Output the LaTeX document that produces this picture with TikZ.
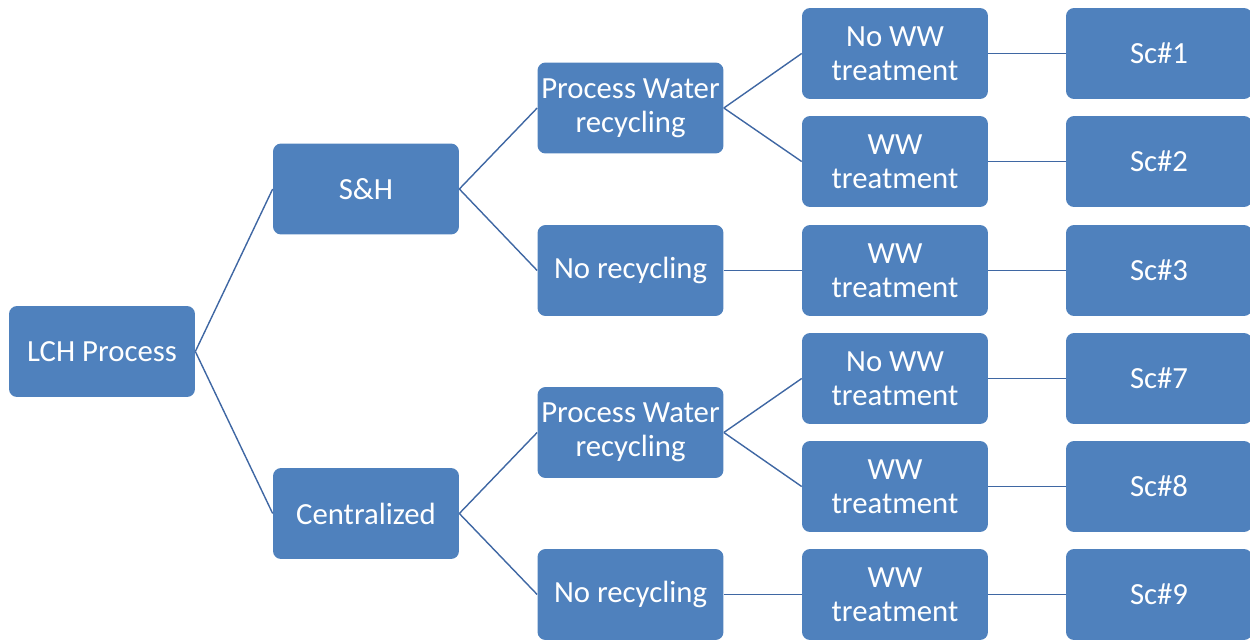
\documentclass[tikz,border=0pt]{standalone}
\usepackage{fontspec}
\setmainfont{Carlito}
\definecolor{boxblue}{HTML}{4F81BD}
\definecolor{linkblue}{HTML}{3F67A3}
\begin{document}
\begin{tikzpicture}[x=0.02cm,y=-0.02cm,
  tbox/.style={rectangle, rounded corners=0.16cm, fill=boxblue, text=white,
    minimum width=3.72cm, minimum height=1.82cm, inner sep=0pt, align=center,
    font=\fontsize{17.5}{19.5}\selectfont},
  link/.style={draw=linkblue, line width=0.8pt}]
\useasboundingbox (0,0) rectangle (1250,639);
% level 1
\node[tbox] (lch) at (102,351.5) {LCH Process};
% level 2
\node[tbox] (sh) at (366,189) {S\&H};
\node[tbox] (cen) at (366,513.5) {Centralized};
% level 3
\node[tbox] (pwa) at (630.5,108) {Process Water\\recycling};
\node[tbox] (nra) at (630.5,270.5) {No recycling};
\node[tbox] (pwb) at (630.5,432.5) {Process Water\\recycling};
\node[tbox] (nrb) at (630.5,594.5) {No recycling};
% level 4
\node[tbox] (t1) at (895,53.5) {No WW\\treatment};
\node[tbox] (t2) at (895,161.5) {WW\\treatment};
\node[tbox] (t3) at (895,270.5) {WW\\treatment};
\node[tbox] (t7) at (895,378.5) {No WW\\treatment};
\node[tbox] (t8) at (895,486.5) {WW\\treatment};
\node[tbox] (t9) at (895,594.5) {WW\\treatment};
% scenarios
\node[tbox] (s1) at (1159,53.5) {Sc\#1};
\node[tbox] (s2) at (1159,161.5) {Sc\#2};
\node[tbox] (s3) at (1159,270.5) {Sc\#3};
\node[tbox] (s7) at (1159,378.5) {Sc\#7};
\node[tbox] (s8) at (1159,486.5) {Sc\#8};
\node[tbox] (s9) at (1159,594.5) {Sc\#9};
% connectors
\foreach \p/\c in {lch/sh, lch/cen, sh/pwa, sh/nra, cen/pwb, cen/nrb,
  pwa/t1, pwa/t2, nra/t3, pwb/t7, pwb/t8, nrb/t9,
  t1/s1, t2/s2, t3/s3, t7/s7, t8/s8, t9/s9}
  \draw[link] (\p.east) -- (\c.west);
\end{tikzpicture}
\end{document}
